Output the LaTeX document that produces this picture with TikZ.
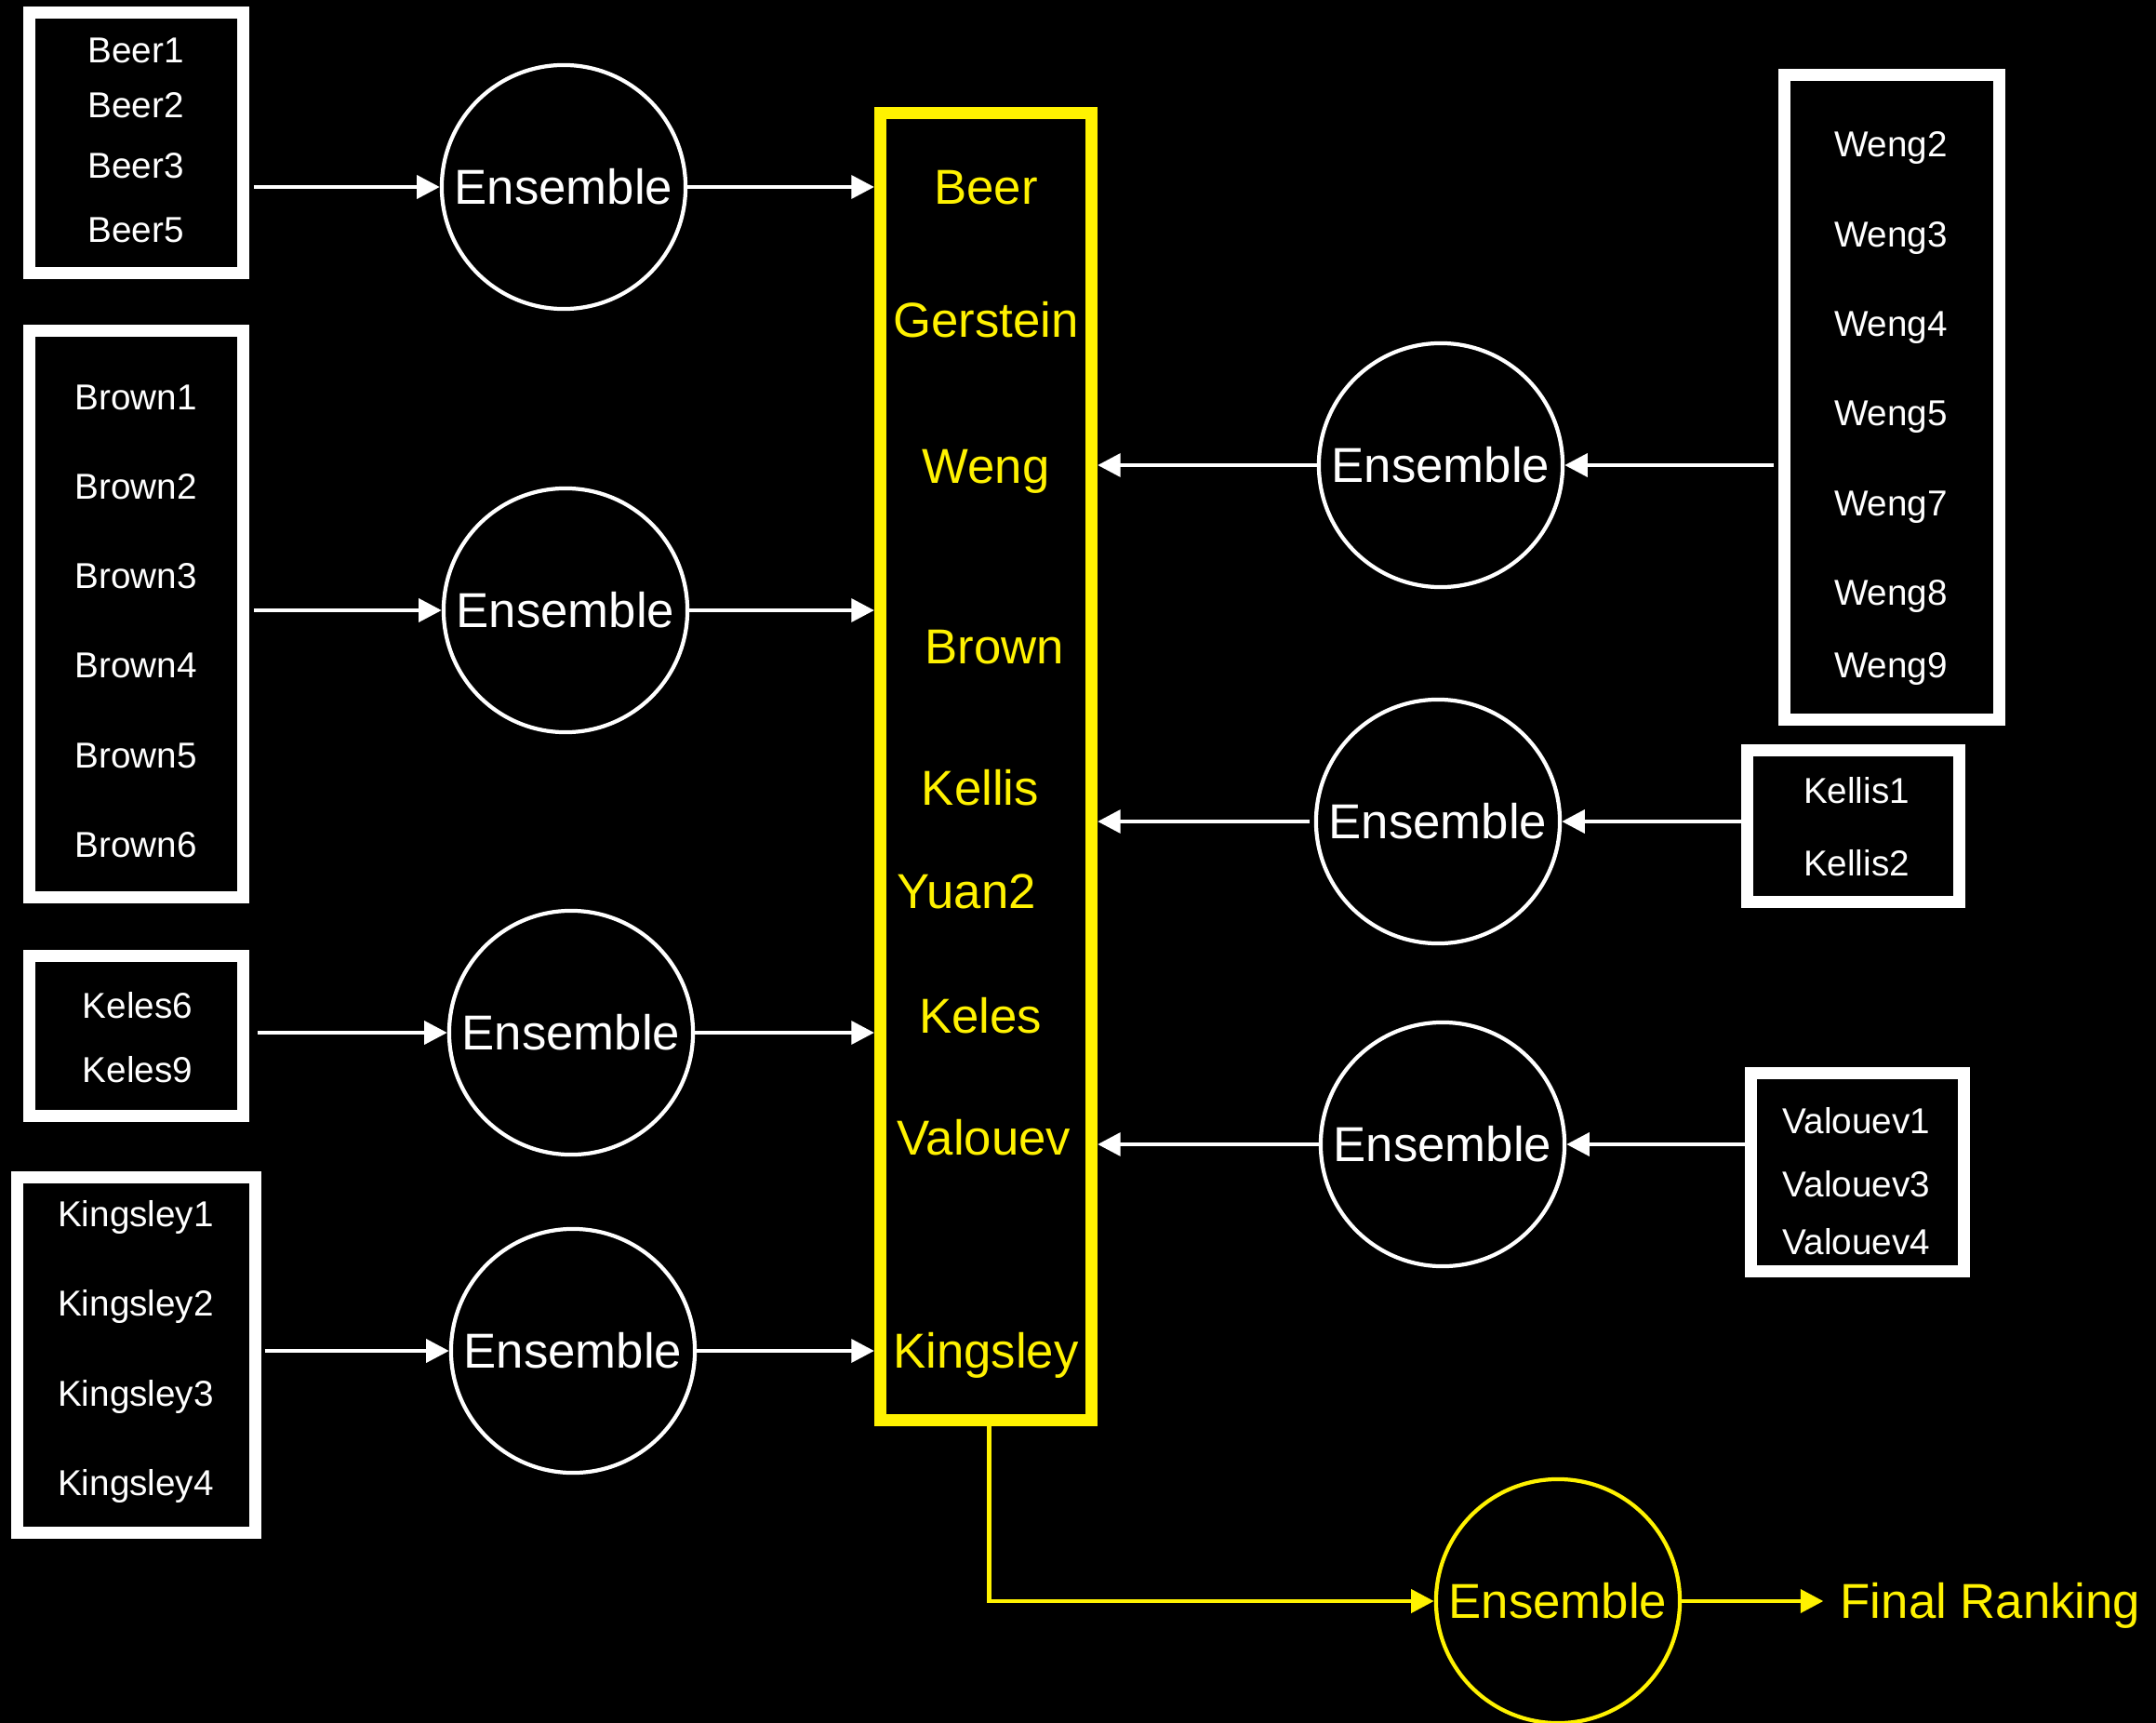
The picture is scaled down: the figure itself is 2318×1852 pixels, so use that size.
\documentclass[tikz,border=0pt]{standalone}
\usepackage{fontspec}
\setmainfont{Liberation Sans}
\usetikzlibrary{arrows.meta}
\definecolor{ylw}{RGB}{255,242,0}
\begin{document}
\begin{tikzpicture}[x=0.01cm,y=-0.01cm,
  wbox/.style={draw=white,line width=3.7pt,inner sep=0pt},
  ybox/.style={draw=ylw,line width=3.7pt,inner sep=0pt},
  ens/.style={circle,draw=white,line width=1.2pt,minimum size=2.62cm,inner sep=0pt,text=white,font=\fontsize{15}{18}\selectfont},
  item/.style={text=white,font=\fontsize{11}{13}\selectfont,inner sep=0pt,text height=0.72em,text depth=0pt},
  yitem/.style={text=ylw,font=\fontsize{15}{18}\selectfont,inner sep=0pt,text height=0.72em,text depth=0pt},
  arr/.style={draw=white,line width=1.3pt,-{Triangle[length=7pt,width=7pt]}},
  yarr/.style={draw=ylw,line width=1.4pt,-{Triangle[length=7pt,width=7pt]}}
]
\fill[black] (0,0) rectangle (2318,1852);
\useasboundingbox (0,0) rectangle (2318,1852);

% left boxes
\node[wbox,minimum width=2.30cm,minimum height=2.80cm] (beerbox) at (146.5,153.5) {};
\node[item] (beer1) at (146,55) {Beer1};
\node[item] (beer2) at (146,114) {Beer2};
\node[item] (beer3) at (146,179) {Beer3};
\node[item] (beer5) at (146,248) {Beer5};

\node[wbox,minimum width=2.30cm,minimum height=6.09cm] (brownbox) at (146.5,660) {};
\node[item] (brown1) at (146,428) {Brown1};
\node[item] (brown2) at (146,524) {Brown2};
\node[item] (brown3) at (146,620) {Brown3};
\node[item] (brown4) at (146,716) {Brown4};
\node[item] (brown5) at (146,813) {Brown5};
\node[item] (brown6) at (146,909) {Brown6};

\node[wbox,minimum width=2.30cm,minimum height=1.72cm] (kelesbox) at (146.5,1113.5) {};
\node[item] (keles6) at (148,1082) {Keles6};
\node[item] (keles9) at (148,1151) {Keles9};

\node[wbox,minimum width=2.56cm,minimum height=3.82cm] (kingbox) at (146.5,1456.5) {};
\node[item] (king1) at (146,1306) {Kingsley1};
\node[item] (king2) at (146,1402) {Kingsley2};
\node[item] (king3) at (146,1499) {Kingsley3};
\node[item] (king4) at (146,1595) {Kingsley4};

% central yellow box
\node[ybox,minimum width=2.27cm,minimum height=14.05cm] (ybox) at (1060,824) {};
\node[yitem] (ybeer) at (1060,207) {Beer};
\node[yitem] (ygerstein) at (1060,350) {Gerstein};
\node[yitem] (yweng) at (1060,507) {Weng};
\node[yitem] (ybrown) at (1069,701) {Brown};
\node[yitem] (ykellis) at (1054,853) {Kellis};
\node[yitem] (yyuan) at (1039,964) {Yuan2};
\node[yitem] (ykeles) at (1054,1098) {Keles};
\node[yitem] (yvalouev) at (1058,1229) {Valouev};
\node[yitem] (ykingsley) at (1060,1458) {Kingsley};

% right boxes
\node[wbox,minimum width=2.31cm,minimum height=6.93cm] (wengbox) at (2034,427) {};
\node[item] (weng2) at (2033,156) {Weng2};
\node[item] (weng3) at (2033,253) {Weng3};
\node[item] (weng4) at (2033,349) {Weng4};
\node[item] (weng5) at (2033,445) {Weng5};
\node[item] (weng7) at (2033,542) {Weng7};
\node[item] (weng8) at (2033,638) {Weng8};
\node[item] (weng9) at (2033,716) {Weng9};

\node[wbox,minimum width=2.28cm,minimum height=1.63cm] (kellisbox) at (1992.5,888) {};
\node[item] (kellis1) at (1996,851) {Kellis1};
\node[item] (kellis2) at (1996,929) {Kellis2};

\node[wbox,minimum width=2.29cm,minimum height=2.13cm] (valbox) at (1997,1260) {};
\node[item] (val1) at (1996,1206) {Valouev1};
\node[item] (val3) at (1996,1274) {Valouev3};
\node[item] (val4) at (1996,1336) {Valouev4};

% ensembles
\node[ens] (e1) at (606,201) {Ensemble};
\node[ens] (e2) at (608,656) {Ensemble};
\node[ens] (e3) at (614,1110) {Ensemble};
\node[ens] (e4) at (616,1452) {Ensemble};
\node[ens] (e5) at (1549,500) {Ensemble};
\node[ens] (e6) at (1546,883) {Ensemble};
\node[ens] (e7) at (1551,1230) {Ensemble};
\node[ens,draw=ylw,text=ylw] (fin) at (1675,1721) {Ensemble};
\node[yitem,anchor=west] (fr) at (1978,1727) {Final Ranking};

% connectors left
\draw[arr,shorten <=1.4pt] (beerbox.east |- e1) -- (e1.west);
\draw[arr] (e1.east) -- (ybox.west |- e1);
\draw[arr,shorten <=1.4pt] (brownbox.east |- e2) -- (e2.west);
\draw[arr] (e2.east) -- (ybox.west |- e2);
\draw[arr,shorten <=2.5pt] (kelesbox.east |- e3) -- (e3.west);
\draw[arr] (e3.east) -- (ybox.west |- e3);
\draw[arr,shorten <=1pt] (kingbox.east |- e4) -- (e4.west);
\draw[arr] (e4.east) -- (ybox.west |- e4);

% connectors right
\draw[arr,shorten <=1.4pt] (wengbox.west |- e5) -- (e5.east);
\draw[arr] (e5.west) -- (ybox.east |- e5);
\draw[arr] (kellisbox.west |- e6) -- (e6.east);
\draw[arr,shorten <=1.5pt] (e6.west) -- (ybox.east |- e6);
\draw[arr] (valbox.west |- e7) -- (e7.east);
\draw[arr] (e7.west) -- (ybox.east |- e7);

% final
\draw[yarr] ([xshift=1.1pt]ybox.south) |- (fin.west);
\draw[yarr,shorten >=5pt] (fin.east) -- (fin.east -| fr.west);
\end{tikzpicture}
\end{document}
